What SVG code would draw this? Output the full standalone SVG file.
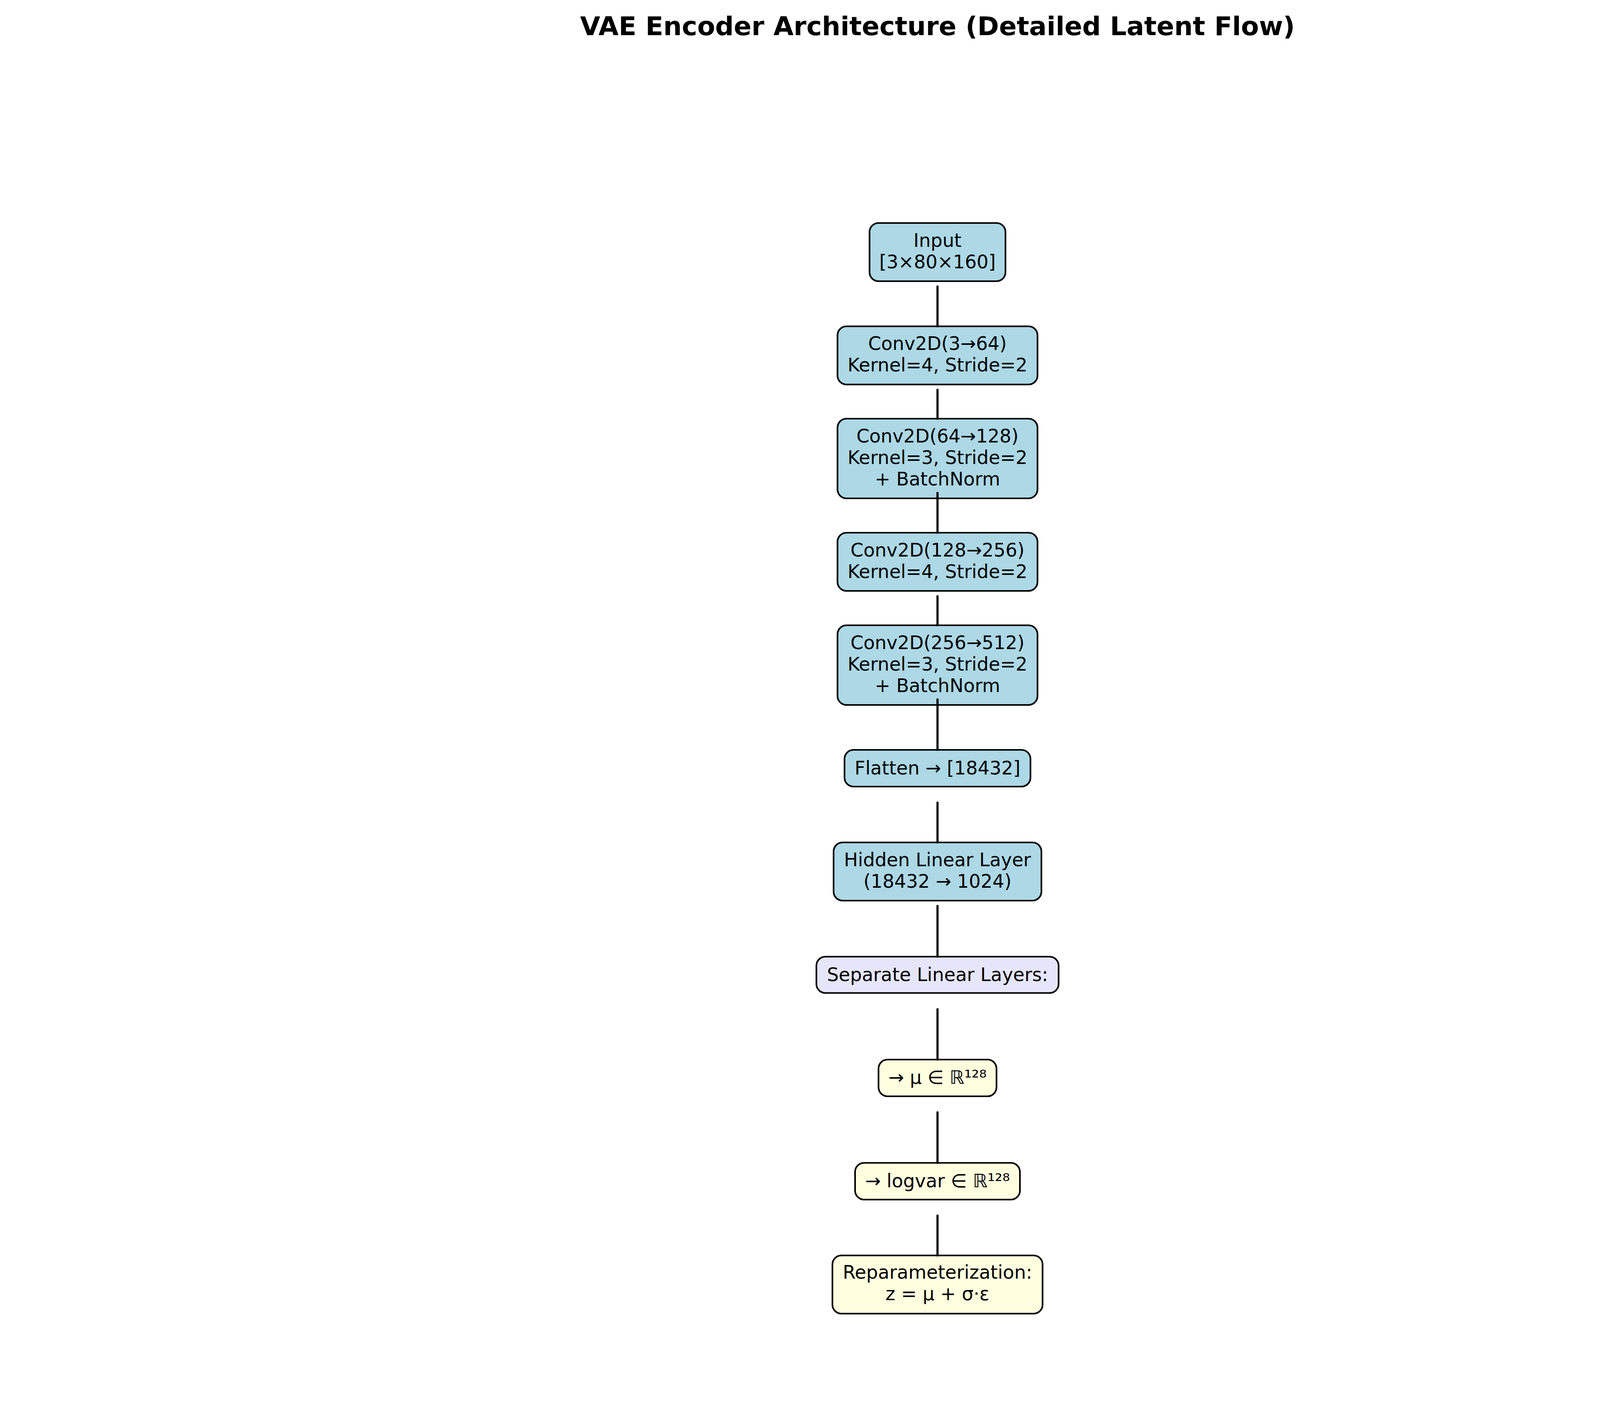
<svg xmlns="http://www.w3.org/2000/svg" width="4800" height="3600" viewBox="0 0 4800 3600">
<style>
  .box { stroke: #000; stroke-width: 4.2; }
  .blue { fill: #ADD8E6; }
  .lav { fill: #E6E6FA; }
  .yel { fill: #FFFFE0; }
  .t { font-family: "DejaVu Sans", "Noto Sans", sans-serif; font-size: 47.5px; fill: #000; text-anchor: middle; }
  .title { font-family: "DejaVu Sans", "Noto Sans", sans-serif; font-size: 66.7px; font-weight: bold; fill: #000; text-anchor: middle; }
  .conn line { stroke: #000; stroke-width: 5.5; stroke-linecap: round; }
</style>
<rect x="0" y="0" width="4800" height="3600" fill="#fff"/>
<text class="title" x="2400" y="90">VAE Encoder Architecture (Detailed Latent Flow)</text>

<g id="node-input">
  <rect class="box blue" x="2226" y="571" width="348" height="149" rx="23"/>
  <text class="t" x="2400" y="631.5">Input</text>
  <text class="t" x="2400" y="686.5">[3×80×160]</text>
</g>
<g id="node-conv1">
  <rect class="box blue" x="2144" y="835.5" width="512" height="149" rx="23"/>
  <text class="t" x="2400" y="896">Conv2D(3→64)</text>
  <text class="t" x="2400" y="951">Kernel=4, Stride=2</text>
</g>
<g id="node-conv2">
  <rect class="box blue" x="2144" y="1072" width="512" height="204" rx="23"/>
  <text class="t" x="2400" y="1133">Conv2D(64→128)</text>
  <text class="t" x="2400" y="1188">Kernel=3, Stride=2</text>
  <text class="t" x="2400" y="1243">+ BatchNorm</text>
</g>
<g id="node-conv3">
  <rect class="box blue" x="2144" y="1364" width="512" height="149" rx="23"/>
  <text class="t" x="2400" y="1424.5">Conv2D(128→256)</text>
  <text class="t" x="2400" y="1479.5">Kernel=4, Stride=2</text>
</g>
<g id="node-conv4">
  <rect class="box blue" x="2144" y="1601" width="512" height="204" rx="23"/>
  <text class="t" x="2400" y="1662">Conv2D(256→512)</text>
  <text class="t" x="2400" y="1717">Kernel=3, Stride=2</text>
  <text class="t" x="2400" y="1772">+ BatchNorm</text>
</g>
<g id="node-flatten">
  <rect class="box blue" x="2162" y="1920" width="476" height="94" rx="23"/>
  <text class="t" x="2400" y="1983">Flatten → [18432]</text>
</g>
<g id="node-hidden">
  <rect class="box blue" x="2134" y="2157" width="532" height="149" rx="23"/>
  <text class="t" x="2400" y="2217.5">Hidden Linear Layer</text>
  <text class="t" x="2400" y="2272.5">(18432 → 1024)</text>
</g>
<g id="node-separate">
  <rect class="box lav" x="2090" y="2449.5" width="620" height="93" rx="23"/>
  <text class="t" x="2400" y="2512">Separate Linear Layers:</text>
</g>
<g id="node-mu">
  <rect class="box yel" x="2249" y="2713" width="302" height="94" rx="23"/>
  <text class="t" x="2400" y="2775">→ μ ∈ ℝ¹²⁸</text>
</g>
<g id="node-logvar">
  <rect class="box yel" x="2189" y="2977.5" width="422" height="94" rx="23"/>
  <text class="t" x="2400" y="3039.5">→ logvar ∈ ℝ¹²⁸</text>
</g>
<g id="node-reparam">
  <rect class="box yel" x="2131" y="3214.5" width="538" height="149" rx="23"/>
  <text class="t" x="2400" y="3274">Reparameterization:</text>
  <text class="t" x="2400" y="3329">z = μ + σ·ε</text>
</g>

<g id="connectors" class="conn">
  <line x1="2400" y1="733.5" x2="2400" y2="835.5"/>
  <line x1="2400" y1="998" x2="2400" y2="1072"/>
  <line x1="2400" y1="1262" x2="2400" y2="1364"/>
  <line x1="2400" y1="1526.5" x2="2400" y2="1601"/>
  <line x1="2400" y1="1791" x2="2400" y2="1920"/>
  <line x1="2400" y1="2055" x2="2400" y2="2157"/>
  <line x1="2400" y1="2319.5" x2="2400" y2="2449.5"/>
  <line x1="2400" y1="2584" x2="2400" y2="2713"/>
  <line x1="2400" y1="2848" x2="2400" y2="2977.5"/>
  <line x1="2400" y1="3112.5" x2="2400" y2="3214.5"/>
</g>
</svg>
